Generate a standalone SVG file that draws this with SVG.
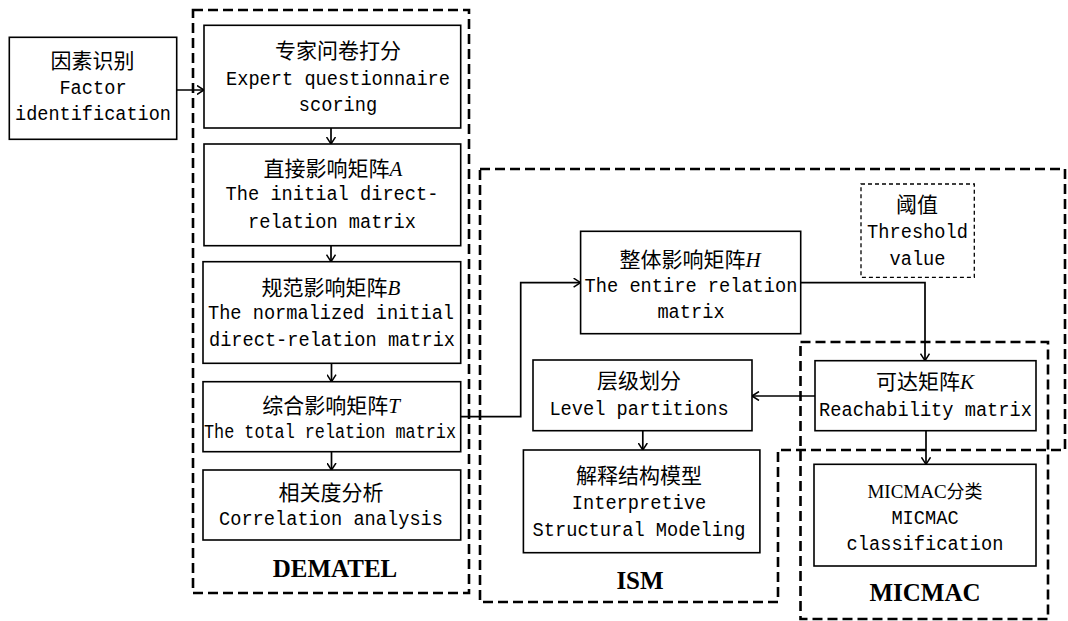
<svg xmlns="http://www.w3.org/2000/svg" width="1068" height="621" viewBox="0 0 1068 621">
<defs>
<style>
.box{fill:#fff;stroke:#000;stroke-width:1.6}
.grp{fill:none;stroke:#000;stroke-width:2.6;stroke-dasharray:10 5}
.thr{fill:#fff;stroke:#000;stroke-width:1.3;stroke-dasharray:4 3}
.con{fill:none;stroke:#000;stroke-width:1.7}
.zh{font-family:"Noto Sans CJK SC","Liberation Serif",serif;font-size:21px;fill:#000;text-anchor:middle}
.en{font-family:"Liberation Mono",monospace;font-size:19.5px;fill:#000;text-anchor:middle}
.var{font-family:"Liberation Serif",serif;font-style:italic;font-size:21px}
.lab{font-family:"Liberation Serif",serif;font-weight:bold;font-size:25px;fill:#000;text-anchor:middle}
</style>
<marker id="arr" viewBox="0 0 8 10" refX="7.5" refY="5" markerWidth="8" markerHeight="10" markerUnits="userSpaceOnUse" orient="auto">
<path d="M0.5,0.5 L7.5,5 L0.5,9.5" fill="none" stroke="#000" stroke-width="1.5"/>
</marker>
</defs>
<rect width="1068" height="621" fill="#fff"/>

<g id="group-dematel">
<rect class="grp" x="193" y="10" width="276" height="583"/>
<text class="lab" x="335" y="577">DEMATEL</text>
</g>
<g id="group-ism">
<path class="grp" d="M480,169 H1065 V450 H778 V602 H480 Z"/>
<text class="lab" x="640" y="589">ISM</text>
</g>
<g id="group-micmac">
<rect class="grp" x="800.5" y="342" width="247.5" height="277"/>
<text class="lab" x="925" y="601">MICMAC</text>
</g>

<g id="connectors">
<path class="con" d="M165,90 H204" marker-end="url(#arr)"/>
<path class="con" d="M331,128 V144" marker-end="url(#arr)"/>
<path class="con" d="M331,245.7 V261.7" marker-end="url(#arr)"/>
<path class="con" d="M331.5,363.3 V381.7" marker-end="url(#arr)"/>
<path class="con" d="M331.5,451.7 V470" marker-end="url(#arr)"/>
<path class="con" d="M461,416.7 H520.7 V282.7 H580.6" marker-end="url(#arr)"/>
<path class="con" d="M800.7,282.7 H925 V360.7" marker-end="url(#arr)"/>
<path class="con" d="M815,396 H752" marker-end="url(#arr)"/>
<path class="con" d="M642.8,430.7 V450" marker-end="url(#arr)"/>
<path class="con" d="M926,430.7 V464.3" marker-end="url(#arr)"/>
</g>

<g id="factor">
<rect class="box" x="9.3" y="37.3" width="167.4" height="102"/>
<text class="zh" x="92.5" y="68">因素识别</text>
<text class="en" x="93" y="94" textLength="67.2" lengthAdjust="spacingAndGlyphs">Factor</text>
<text class="en" x="93" y="120" textLength="156" lengthAdjust="spacingAndGlyphs">identification</text>
</g>
<g id="expert">
<rect class="box" x="204" y="25.3" width="256.7" height="102.7"/>
<text class="zh" x="338" y="58">专家问卷打分</text>
<text class="en" x="338" y="85" textLength="224" lengthAdjust="spacingAndGlyphs">Expert questionnaire</text>
<text class="en" x="338" y="111" textLength="78.4" lengthAdjust="spacingAndGlyphs">scoring</text>
</g>
<g id="matrix-a">
<rect class="box" x="204" y="144" width="256.7" height="101.7"/>
<text class="zh" x="333" y="176">直接影响矩阵<tspan class="var">A</tspan></text>
<text class="en" x="332" y="200" textLength="212.8" lengthAdjust="spacingAndGlyphs">The initial direct-</text>
<text class="en" x="332" y="228" textLength="168" lengthAdjust="spacingAndGlyphs">relation matrix</text>
</g>
<g id="matrix-b">
<rect class="box" x="203" y="261.7" width="257.7" height="101.6"/>
<text class="zh" x="331" y="295">规范影响矩阵<tspan class="var">B</tspan></text>
<text class="en" x="331" y="319" textLength="246" lengthAdjust="spacingAndGlyphs">The normalized initial</text>
<text class="en" x="332" y="346" textLength="246" lengthAdjust="spacingAndGlyphs">direct-relation matrix</text>
</g>
<g id="matrix-t">
<rect class="box" x="203" y="381.7" width="257.7" height="70"/>
<text class="zh" x="331" y="413">综合影响矩阵<tspan class="var">T</tspan></text>
<text class="en" x="330" y="438" textLength="252" lengthAdjust="spacingAndGlyphs">The total relation matrix</text>
</g>
<g id="correlation">
<rect class="box" x="203" y="470" width="257.7" height="70"/>
<text class="zh" x="331" y="500">相关度分析</text>
<text class="en" x="331" y="525" textLength="224" lengthAdjust="spacingAndGlyphs">Correlation analysis</text>
</g>
<g id="matrix-h">
<rect class="box" x="580.6" y="231.3" width="220.1" height="102.4"/>
<text class="zh" x="690" y="267">整体影响矩阵<tspan class="var">H</tspan></text>
<text class="en" x="691" y="292" textLength="212.8" lengthAdjust="spacingAndGlyphs">The entire relation</text>
<text class="en" x="691" y="318" textLength="67.2" lengthAdjust="spacingAndGlyphs">matrix</text>
</g>
<g id="threshold">
<rect class="thr" x="861" y="184" width="113.3" height="93.3"/>
<text class="zh" x="917" y="212">阈值</text>
<text class="en" x="917.5" y="238" textLength="100.8" lengthAdjust="spacingAndGlyphs">Threshold</text>
<text class="en" x="917.5" y="265" textLength="56" lengthAdjust="spacingAndGlyphs">value</text>
</g>
<g id="level">
<rect class="box" x="533" y="360" width="219" height="70.7"/>
<text class="zh" x="639" y="388">层级划分</text>
<text class="en" x="639" y="415" textLength="179.2" lengthAdjust="spacingAndGlyphs">Level partitions</text>
</g>
<g id="matrix-k">
<rect class="box" x="815" y="360.7" width="221" height="70"/>
<text class="zh" x="925" y="389">可达矩阵<tspan class="var">K</tspan></text>
<text class="en" x="925.5" y="416" textLength="212.8" lengthAdjust="spacingAndGlyphs">Reachability matrix</text>
</g>
<g id="ism-model">
<rect class="box" x="523.4" y="450" width="236.5" height="102.7"/>
<text class="zh" x="639" y="483">解释结构模型</text>
<text class="en" x="639" y="509" textLength="134.4" lengthAdjust="spacingAndGlyphs">Interpretive</text>
<text class="en" x="639" y="536" textLength="212.8" lengthAdjust="spacingAndGlyphs">Structural Modeling</text>
</g>
<g id="micmac-class">
<rect class="box" x="814" y="464.3" width="222" height="101.7"/>
<text class="zh" x="925" y="498" style="font-size:18px"><tspan style="font-family:'Liberation Serif',serif;font-size:19px">MICMAC</tspan>分类</text>
<text class="en" x="925" y="524" textLength="67.2" lengthAdjust="spacingAndGlyphs">MICMAC</text>
<text class="en" x="925" y="550" textLength="156.8" lengthAdjust="spacingAndGlyphs">classification</text>
</g>
</svg>
